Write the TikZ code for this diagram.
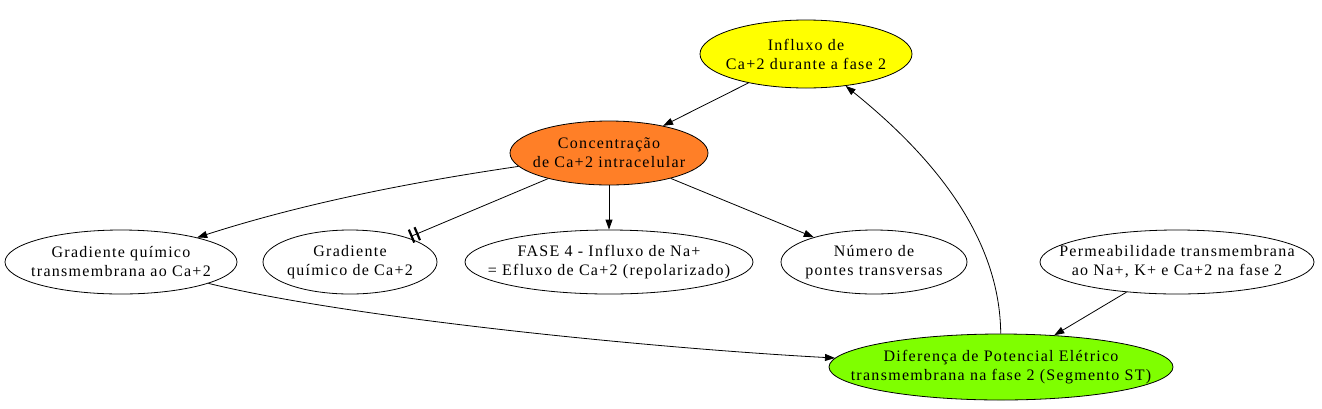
\documentclass[tikz,border=0pt]{standalone}
\usepackage{fontspec}
\setmainfont{Liberation Serif}[LetterSpace=8]
\usetikzlibrary{shapes.geometric,arrows.meta}
\definecolor{infl}{HTML}{FFFF00}
\definecolor{conc}{HTML}{FF7F27}
\definecolor{dif}{HTML}{7FFF00}
\tikzset{
  ell/.style={ellipse, draw=black, line width=0.8pt, inner sep=0pt},
  txt/.style={inner sep=0pt, align=center, font=\fontsize{16}{19}\selectfont},
  edge/.style={line width=0.8pt, -{Triangle[length=10pt,width=7pt]}},
  teeedge/.style={line width=0.8pt, -{Bar[width=14pt,line width=2.2pt,sep=4pt] Bar[width=14pt,line width=2.2pt,sep=3pt]}},
}
\begin{document}
\begin{tikzpicture}[x=1pt,y=-1pt]
\useasboundingbox (0,0) rectangle (1322,408);
\node[ell, fill=infl, minimum width=212pt, minimum height=68pt] (inf) at (806,54) {};
\node[txt] (infT) at (inf) {Influxo de\\Ca+2 durante a fase 2};
\node[ell, fill=conc, minimum width=198pt, minimum height=64pt] (con) at (609,153) {};
\node[txt] (conT) at (con) {Concentração\\de Ca+2 intracelular};
\node[ell, minimum width=232pt, minimum height=64pt] (gtm) at (121,262) {};
\node[txt] (gtmT) at (gtm) {Gradiente químico\\transmembrana ao Ca+2};
\node[ell, minimum width=174pt, minimum height=64pt] (gq) at (350,262) {};
\node[txt] (gqT) at (gq) {Gradiente\\químico de Ca+2};
\node[ell, minimum width=288pt, minimum height=64pt] (f4) at (609,262) {};
\node[txt] (f4T) at (f4) {FASE 4 - Influxo de Na+\\= Efluxo de Ca+2 (repolarizado)};
\node[ell, minimum width=186pt, minimum height=64pt] (num) at (874,262) {};
\node[txt] (numT) at (num) {Número de\\pontes transversas};
\node[ell, minimum width=274pt, minimum height=64pt] (per) at (1177,262) {};
\node[txt] (perT) at (per) {Permeabilidade transmembrana\\ao Na+, K+ e Ca+2 na fase 2};
\node[ell, fill=dif, minimum width=344pt, minimum height=66pt] (dif) at (1001,367) {};
\node[txt] (difT) at (dif) {Diferença de Potencial Elétrico\\transmembrana na fase 2 (Segmento ST)};
\draw[edge] (inf) -- (con);
\draw[edge] (con) .. controls (440,178) and (320,198) .. (gtm);
\draw[teeedge] (con) -- (gq);
\draw[edge] (con) -- (f4);
\draw[edge] (con) -- (num);
\draw[edge] (gtm) .. controls (350,318) and (650,348) .. (dif);
\draw[edge] (per) -- (dif);
\draw[edge] (dif) .. controls (1000,250) and (950,170) .. (inf);
\end{tikzpicture}
\end{document}
